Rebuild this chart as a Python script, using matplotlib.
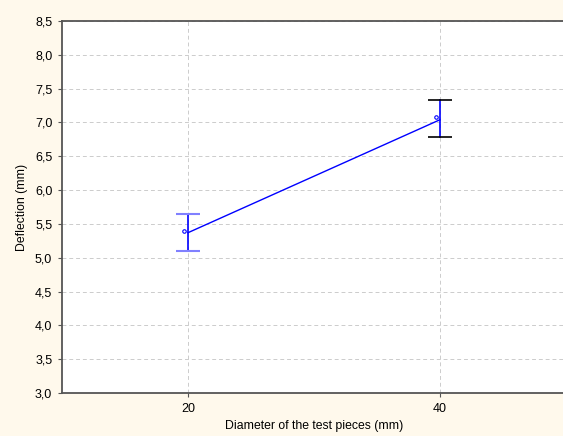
import matplotlib
matplotlib.use('Agg')
import matplotlib.pyplot as plt
from matplotlib.ticker import FuncFormatter

# diameter of test pieces and measured deflection
diameters = [20, 40]
means = [5.39, 7.08]
line_vals = [5.37, 7.04]
err_low = [5.10, 6.78]
err_high = [5.65, 7.33]

plt.rcParams['font.family'] = ['Liberation Sans', 'DejaVu Sans']

fig = plt.figure(figsize=(5.63, 4.36), dpi=100)
fig.patch.set_facecolor('#fff9ec')
ax = fig.add_axes([0.1101, 0.0986, 0.895, 0.8532])
ax.set_facecolor('white')

# error bars
cap = 0.95
for x, lo, hi in zip(diameters, err_low, err_high):
    ax.plot([x, x], [lo, hi], color='blue', lw=1.2, zorder=3)
ax.hlines([err_low[0], err_high[0]], diameters[0] - cap, diameters[0] + cap, color='#8080ff', lw=1.5, zorder=3)
ax.hlines([err_low[1], err_high[1]], diameters[1] - cap, diameters[1] + cap, color='black', lw=1.2, zorder=3)

# mean line and markers
ax.plot(diameters, line_vals, color='blue', lw=1, zorder=4)
ax.plot([d - 0.3 for d in diameters], means, 'o', ms=2.5, mfc='white', mec='blue', mew=0.8, zorder=5)

ax.set_xlim(10, 50)
ax.set_ylim(3.0, 8.5)
ax.set_xticks(diameters)
ax.set_yticks([3.0 + 0.5 * i for i in range(12)])
ax.yaxis.set_major_formatter(FuncFormatter(lambda v, p: f'{v:.1f}'.replace('.', ',')))
ax.grid(True, color='#cccccc', ls='--', lw=0.7, dashes=(4, 3))
ax.set_axisbelow(True)

for s in ['left', 'bottom', 'top', 'right']:
    ax.spines[s].set_color('#555555')
    ax.spines[s].set_linewidth(1.3)

ax.tick_params(labelsize=9, length=3, width=0.8, color='#555555', pad=4)
ax.set_xlabel('Diameter of the test pieces (mm)', fontsize=8.8, labelpad=4)
ax.set_ylabel('Deflection (mm)', fontsize=8.8, labelpad=5)

fig.savefig('out.png', dpi=100, facecolor=fig.get_facecolor())
